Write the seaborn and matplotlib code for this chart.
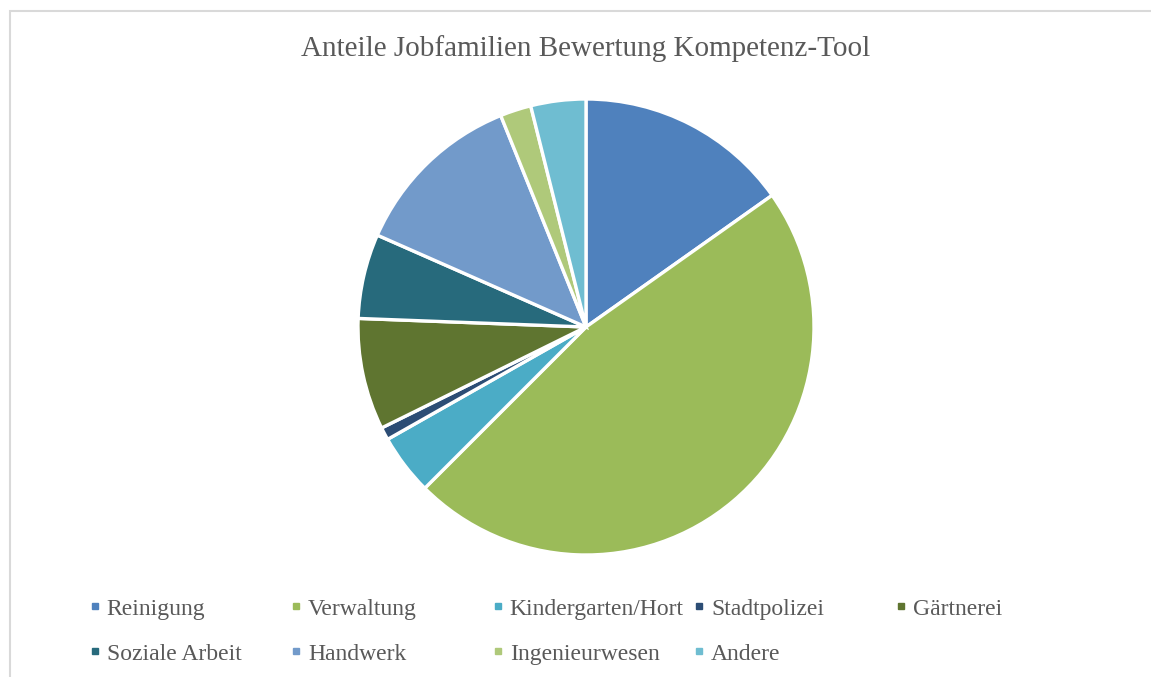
import matplotlib
matplotlib.use('Agg')
from matplotlib import pyplot as plt
from matplotlib.lines import Line2D
from matplotlib.patches import Rectangle
import seaborn as sns

# values (share in percent)
categories = ['Reinigung', 'Verwaltung', 'Kindergarten/Hort', 'Stadtpolizei', 'Gärtnerei',
              'Soziale Arbeit', 'Handwerk', 'Ingenieurwesen', 'Andere']
shares = [15.2, 47.3, 4.3, 0.9, 7.9, 6.0, 12.3, 2.2, 3.9]
colors = ['#4F81BD', '#9BBB59', '#4BACC6', '#2C4D75', '#5F7530',
          '#276A7C', '#729ACA', '#AFC97A', '#6FBDD1']
title = 'Anteile Jobfamilien Bewertung Kompetenz-Tool'

sns.set_theme(style='white')
plt.rcParams['font.family'] = ['Liberation Serif', 'DejaVu Serif']
text_col = '#595959'

W, H = 1151, 677
fig = plt.figure(figsize=(W / 100, H / 100), dpi=100)

# chart frame (runs off the right and bottom edges)
fig.patches.append(Rectangle((10 / W, -0.1), 1.2, (H - 11) / H + 0.1, transform=fig.transFigure,
                             fill=False, edgecolor='#D9D9D9', linewidth=1.5))

cx, cy, r = 586, 327, 228
axe = fig.add_axes([(cx - r) / W, (H - cy - r) / H, 2 * r / W, 2 * r / H])
axe.pie(shares, colors=colors, startangle=90, counterclock=False,
        wedgeprops=dict(edgecolor='white', linewidth=2.4))
axe.set_xlim(-1, 1)
axe.set_ylim(-1, 1)
axe.set_aspect('equal')
axe.axis('off')

fig.text(586 / W, 1 - 49 / H, title, ha='center', va='center', fontsize=21, color=text_col)

# legend: five fixed-width columns, two rows
ncol = 5
for c in range(ncol):
    handles, labels = [], []
    for i in range(c, len(categories), ncol):
        handles.append(Line2D([0], [0], marker='s', linestyle='none', markersize=5,
                              markerfacecolor=colors[i], markeredgecolor=colors[i]))
        labels.append(categories[i])
    leg = fig.legend(handles, labels, loc='upper left',
                     bbox_to_anchor=((89 + 201.5 * c) / W, 1 - 598 / H),
                     frameon=False, fontsize=17, handlelength=0.5, handletextpad=0.25,
                     labelspacing=1.0, borderpad=0, borderaxespad=0)
    for t in leg.get_texts():
        t.set_color(text_col)

plt.savefig('out.png', dpi=100)
